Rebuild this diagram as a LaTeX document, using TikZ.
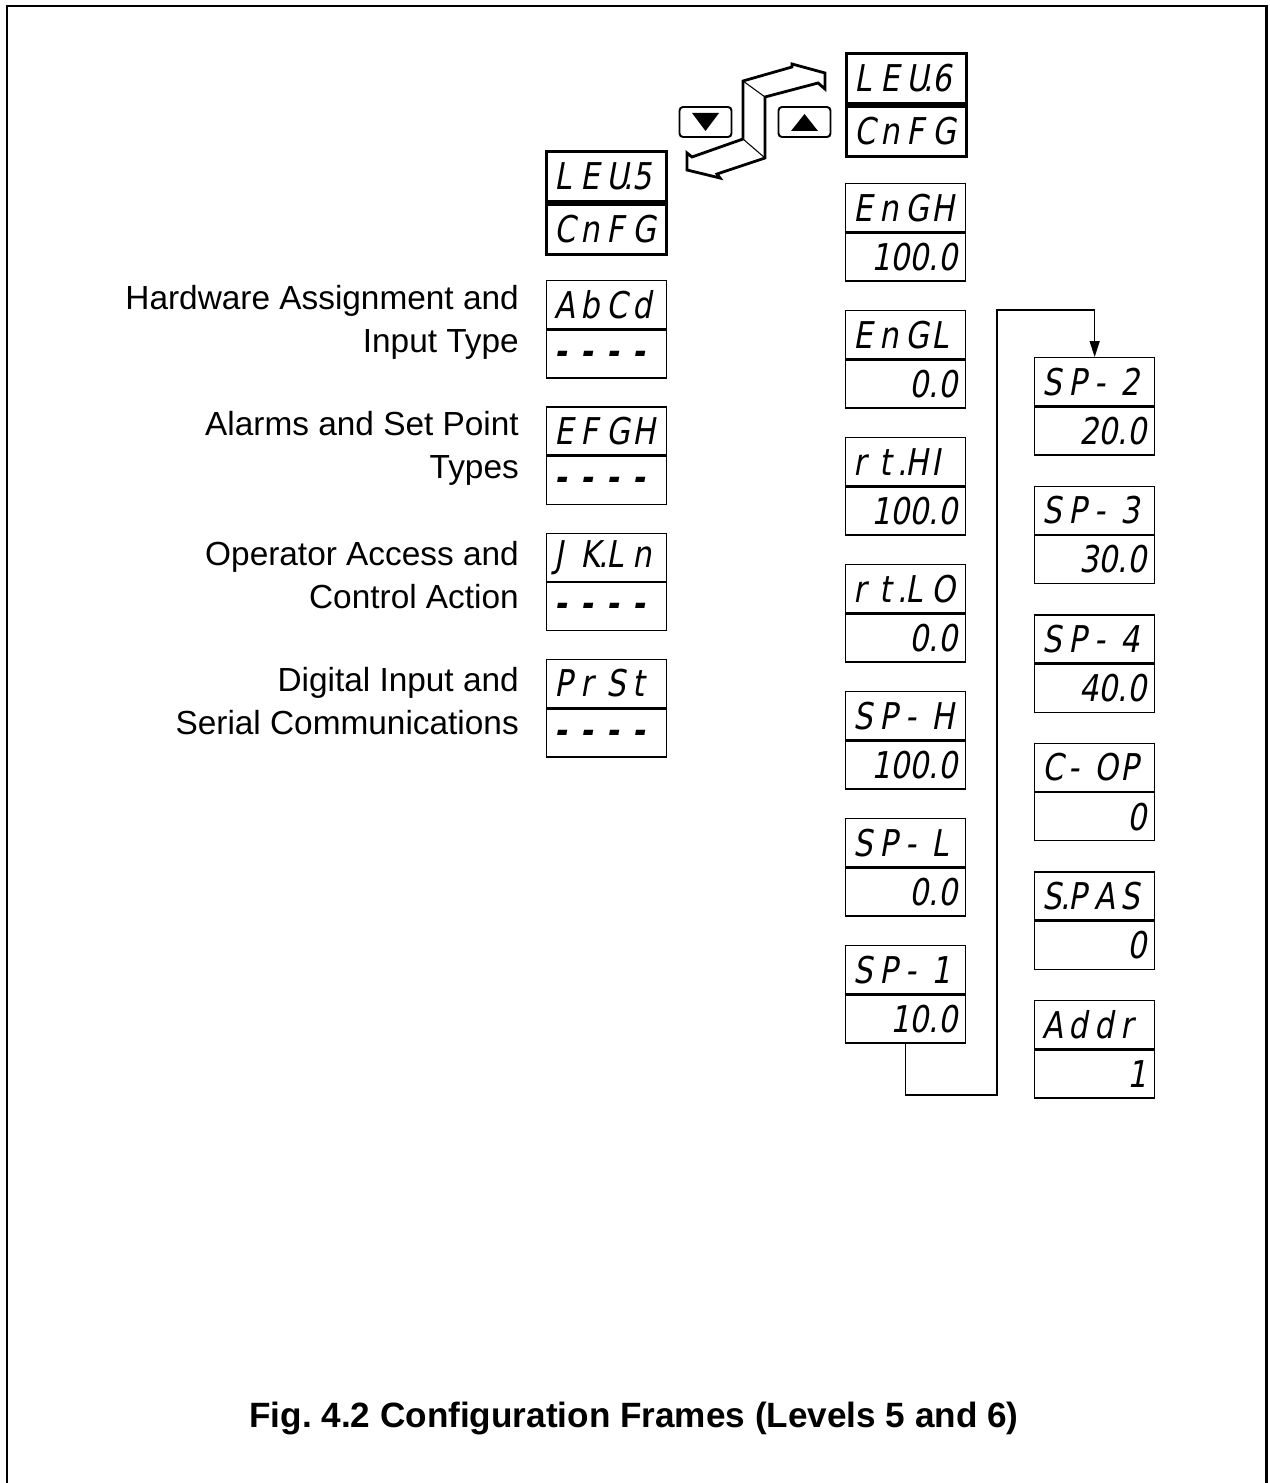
\documentclass[tikz,border=0pt]{standalone}
\usepackage{fontspec}
\setmainfont{Liberation Sans}
\newfontfamily\segfont[FakeSlant=0.18,FakeStretch=0.82]{DejaVu Sans}
\usetikzlibrary{arrows.meta, positioning}

\makeatletter
\newcommand\seg[1]{\seg@#1\@nil}
\def\seg@#1{\ifx#1\@nil\else\ifx#1.\makebox[0pt][r]{.\hspace{-0.02cm}}\else\makebox[0.52cm][l]{#1}\fi\expandafter\seg@\fi}
\makeatother

\begin{document}
\begin{tikzpicture}[
    x=0.02cm, y=-0.02cm,
    seg/.style={draw, line width=0.75pt, minimum height=0.96cm, text width=2.08cm,
                inner xsep=0.16cm, inner ysep=0pt, anchor=north west,
                font=\segfont\fontsize{21}{21}\selectfont},
    segtop/.style={seg, align=left},
    segbot/.style={seg, align=right},
    level/.style={line width=1.7pt, minimum height=1cm},
    btn/.style={draw, line width=1.1pt, rounded corners=2pt, minimum width=1.04cm,
                minimum height=0.6cm, inner sep=0pt},
    lbl/.style={align=right, font=\fontsize{19}{24.4}\selectfont, left=0.42cm of #1, yshift=0.14cm},
    link/.style={line width=0.75pt, -{Triangle[length=0.32cm, width=0.2cm]}}
]
\useasboundingbox (0,0) rectangle (1269,1483);
\draw[line width=1.7pt] (7,1483) -- (7,6) -- (1266,6) -- (1266,1483);

\node[segtop, level] (lev5-t) at (545,150) {\seg{LEU.5}};
\node[segtop, level, below=0pt of lev5-t] (lev5-b) {\seg{CnFG}};
\node[segtop, level] (lev6-t) at (845,52) {\seg{LEU.6}};
\node[segtop, level, below=0pt of lev6-t] (lev6-b) {\seg{CnFG}};

\node[btn] (down) at (705.5,122) {};
\node[btn] (up) at (804.5,122) {};
\fill (down.center) ++(-13.5,-9) -- ++(27,0) -- ++(-13.5,18) -- cycle;
\fill (up.center) ++(-13.5,9) -- ++(27,0) -- ++(-13.5,-17) -- cycle;

\draw[line width=1.6pt, line join=miter] (743,139) -- (743,81) -- (792,67) -- (792,64)
    -- (825,73) -- (825,89) -- (818,83) -- (765,97) -- (765,158) -- (717,174)
    -- (720,178) -- (687,170) -- (687,153) -- (692,157) -- cycle;
\draw[line width=0.6pt] (743,81) -- (765,97) (743,139) -- (765,158);

\foreach \id/\word/\txt [count=\i from 0] in {
    abcd/AbCd/{Hardware Assignment and\\Input Type},
    efgh/EFGH/{Alarms and Set Point\\Types},
    jkln/JK.Ln/{Operator Access and\\Control Action},
    prst/PrSt/{Digital Input and\\Serial Communications}}{
  \node[segtop] (\id-t) at (546,{280+126.3*\i}) {\expandafter\seg\expandafter{\word}};
  \node[segtop, below=0pt of \id-t] (\id-b)
      {\hspace{0.12cm}\vphantom{0}\raisebox{0.16cm}{\bfseries\seg{----}}};
  \node[lbl=\id-t.south west] (\id-l) {\txt};
}

\foreach \id/\word/\val [count=\i from 0] in {engh/EnGH/100.0, engl/EnGL/0.0,
    rthi/rt.HI/100.0, rtlo/rt.LO/0.0, sph/SP-H/100.0, spl/SP-L/0.0, sp1/SP-1/10.0}{
  \node[segtop] (\id-t) at (845,{183+127*\i}) {\expandafter\seg\expandafter{\word}};
  \node[segbot, below=0pt of \id-t] (\id-b) {\val\hspace{0.1cm}};
}

\foreach \id/\word/\val [count=\i from 0] in {sp2/SP-2/20.0, sp3/SP-3/30.0,
    sp4/SP-4/40.0, cop/C-OP/0, spas/S.PAS/0, addr/Addr/1}{
  \node[segtop] (\id-t) at (1034,{357+128.6*\i}) {\expandafter\seg\expandafter{\word}};
  \node[segbot, below=0pt of \id-t] (\id-b) {\val\hspace{0.1cm}};
}

\coordinate (loopA) at (997,1095);
\coordinate (loopB) at (997,310);
\draw[link] (sp1-b.south) |- (loopA) -- (loopB) -| (sp2-t.north);

\node[font=\bfseries\fontsize{20}{24}\selectfont] (caption) at (634,1418)
    {Fig.\ 4.2 Configuration Frames (Levels 5 and 6)};
\end{tikzpicture}
\end{document}
